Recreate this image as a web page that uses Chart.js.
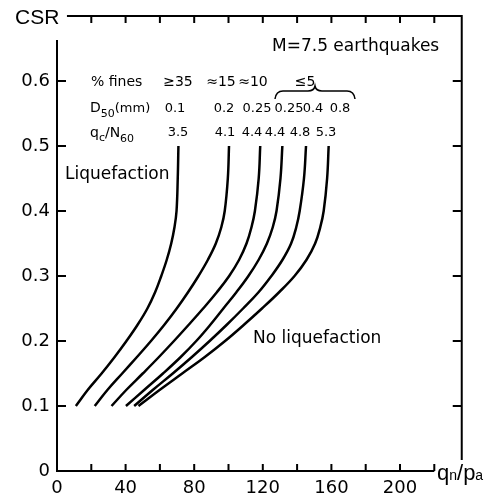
<!DOCTYPE html>
<html>
<head>
<meta charset="utf-8">
<script src="https://cdn.jsdelivr.net/npm/chart.js@4.4.1/dist/chart.umd.min.js"></script>
<style>
  html, body { margin: 0; padding: 0; background: #fff; }
</style>
</head>
<body>
<canvas id="chart" width="490" height="495"></canvas>
<script>
// CSR levels shared by all six boundary curves
const csrLevels = [0.10, 0.125, 0.15, 0.175, 0.20, 0.225, 0.25, 0.275, 0.30, 0.325, 0.35, 0.375, 0.40, 0.45, 0.50];

// qn/pa at each CSR level, one array per soil type
const curveFines35 = [11, 18, 26, 33.5, 40.5, 47, 52.7, 57.2, 60.8, 64, 66.6, 68.5, 69.7, 70.4, 70.8];
const curveFines15 = [22, 29.5, 38, 46.5, 54.8, 62.6, 69.8, 76.4, 82.5, 88, 92.6, 95.8, 97.8, 99.6, 100.3];
const curveFines10 = [31.8, 40.5, 50, 59.3, 68.2, 76.8, 85.2, 93.2, 100.4, 106.2, 110.5, 113.4, 115.4, 117.6, 118.5];
const curveD025 = [40.2, 51, 61.8, 72, 81.2, 89.4, 97, 104.6, 111.6, 117.6, 122.4, 125.8, 128, 130.3, 131.4];
const curveD04 = [45, 56, 67.5, 78.5, 89, 99, 108.5, 117.5, 125, 131.5, 136.5, 139.5, 141.5, 144, 145.2];
const curveD08 = [47.5, 60, 73, 86, 98, 109, 119.5, 129.5, 138.5, 145.5, 150.5, 153.5, 155.5, 157.5, 158.4];

const finesLabels = ['≥35', '≈15', '≈10', '≤5'];
const d50Labels = ['0.1', '0.2', '0.25', '0.25', '0.4', '0.8'];
const ratioLabels = ['3.5', '4.1', '4.4', '4.4', '4.8', '5.3'];

const xTickLabels = [0, 40, 80, 120, 160, 200];
const xTickMarks = [20, 40, 60, 80, 100, 120, 140, 160, 180, 200, 220];
const yTickLabels = [0, 0.1, 0.2, 0.3, 0.4, 0.5, 0.6];

const curves = [curveFines35, curveFines15, curveFines10, curveD025, curveD04, curveD08];

const datasets = curves.map((xs, i) => ({
    label: ratioLabels[i],
    data: xs.map((v, j) => ({ x: v, y: csrLevels[j] })),
    showLine: true,
    borderColor: '#000',
    borderWidth: 2.5,
    pointRadius: 0,
    tension: 0.4,
    fill: false
}));

const FONT = '"DejaVu Sans", sans-serif';
const ARIAL = '"Liberation Sans", Arial, sans-serif';

// draws pieces of text one after another, some smaller and shifted down
function drawParts(ctx, x, y, parts) {
    parts.forEach(p => {
        ctx.font = p[1] + 'px ' + (p[3] || FONT);
        ctx.fillText(p[0], x, y + (p[2] || 0));
        x += ctx.measureText(p[0]).width;
    });
}

const framePlugin = {
    id: 'frame',
    afterDraw(chart) {
        const ctx = chart.ctx;
        const X = v => chart.scales.x.getPixelForValue(v);
        const Y = v => chart.scales.y.getPixelForValue(v);
        ctx.save();
        ctx.strokeStyle = '#000';
        ctx.fillStyle = '#000';
        ctx.lineWidth = 2;

        ctx.beginPath();
        // left axis and bottom axis
        ctx.moveTo(X(0), Y(0.663));
        ctx.lineTo(X(0), Y(0));
        ctx.lineTo(X(220), Y(0));
        // top and right border
        ctx.moveTo(X(5.8), Y(0.7));
        ctx.lineTo(X(236), Y(0.7));
        ctx.lineTo(X(236), Y(0.017));
        // inward ticks
        xTickMarks.forEach(v => {
            ctx.moveTo(X(v), Y(0));
            ctx.lineTo(X(v), Y(0) - 7);
            ctx.moveTo(X(v), Y(0.7));
            ctx.lineTo(X(v), Y(0.7) + 7);
        });
        yTickLabels.forEach(v => {
            if (v === 0) return;
            ctx.moveTo(X(0), Y(v));
            ctx.lineTo(X(0) + 9, Y(v));
            ctx.moveTo(X(236), Y(v));
            ctx.lineTo(X(236) - 9, Y(v));
        });
        ctx.stroke();

        // brace over the <=5 group
        ctx.lineWidth = 1.5;
        ctx.beginPath();
        ctx.moveTo(275, 99);
        ctx.quadraticCurveTo(276, 91, 283, 91);
        ctx.lineTo(308, 91);
        ctx.quadraticCurveTo(314, 91, 315, 86);
        ctx.quadraticCurveTo(316, 91, 322, 91);
        ctx.lineTo(347, 91);
        ctx.quadraticCurveTo(354, 91, 355, 99);
        ctx.stroke();

        // tick labels
        ctx.font = '18px ' + FONT;
        ctx.textAlign = 'center';
        ctx.textBaseline = 'alphabetic';
        xTickLabels.forEach(v => ctx.fillText(String(v), X(v), Y(0) + 22));
        ctx.textAlign = 'right';
        ctx.textBaseline = 'middle';
        yTickLabels.forEach(v => ctx.fillText(v === 0 ? '0' : v.toFixed(1), X(0) - 7, Y(v)));

        // axis titles
        ctx.textAlign = 'left';
        ctx.textBaseline = 'alphabetic';
        ctx.font = '21px ' + ARIAL;
        ctx.fillText('CSR', 15, 24);
        drawParts(ctx, 437, 480, [
            ['q', 22, 0, ARIAL], ['n', 14, 0, ARIAL], ['/', 22, 0, ARIAL],
            ['p', 22, 0, ARIAL], ['a', 14, 0, ARIAL]
        ]);

        // annotations
        ctx.font = '17px ' + FONT;
        ctx.fillText('M=7.5 earthquakes', 272, 51);
        ctx.fillText('Liquefaction', 65, 179);
        ctx.fillText('No liquefaction', 253, 343);

        ctx.font = '14px ' + FONT;
        ctx.fillText('% fines', 91, 86);
        drawParts(ctx, 90, 112, [['D', 14], ['50', 11, 5], ['(mm)', 13]]);
        drawParts(ctx, 90, 137, [['q', 14], ['c', 11, 4], ['/', 14], ['N', 14], ['60', 11, 5]]);

        ctx.textAlign = 'center';
        ctx.font = '14px ' + FONT;
        const finesX = [178, 221, 253, 305];
        finesLabels.forEach((t, i) => ctx.fillText(t, finesX[i], 86));
        ctx.font = '13px ' + FONT;
        const d50X = [175, 224, 257, 289, 313, 340];
        d50Labels.forEach((t, i) => ctx.fillText(t, d50X[i], 112));
        const ratioX = [178, 225, 252, 275, 300, 326];
        ratioLabels.forEach((t, i) => ctx.fillText(t, ratioX[i], 136));

        ctx.restore();
    }
};

new Chart(document.getElementById('chart'), {
    type: 'scatter',
    data: { datasets: datasets },
    options: {
        responsive: false,
        animation: false,
        devicePixelRatio: 1,
        layout: { padding: { left: 57, right: 28.26, top: 16, bottom: 24 } },
        plugins: {
            legend: { display: false },
            tooltip: { enabled: false }
        },
        scales: {
            x: { type: 'linear', min: 0, max: 236, display: false },
            y: { type: 'linear', min: 0, max: 0.7, display: false }
        }
    },
    plugins: [framePlugin]
});
</script>
</body>
</html>
